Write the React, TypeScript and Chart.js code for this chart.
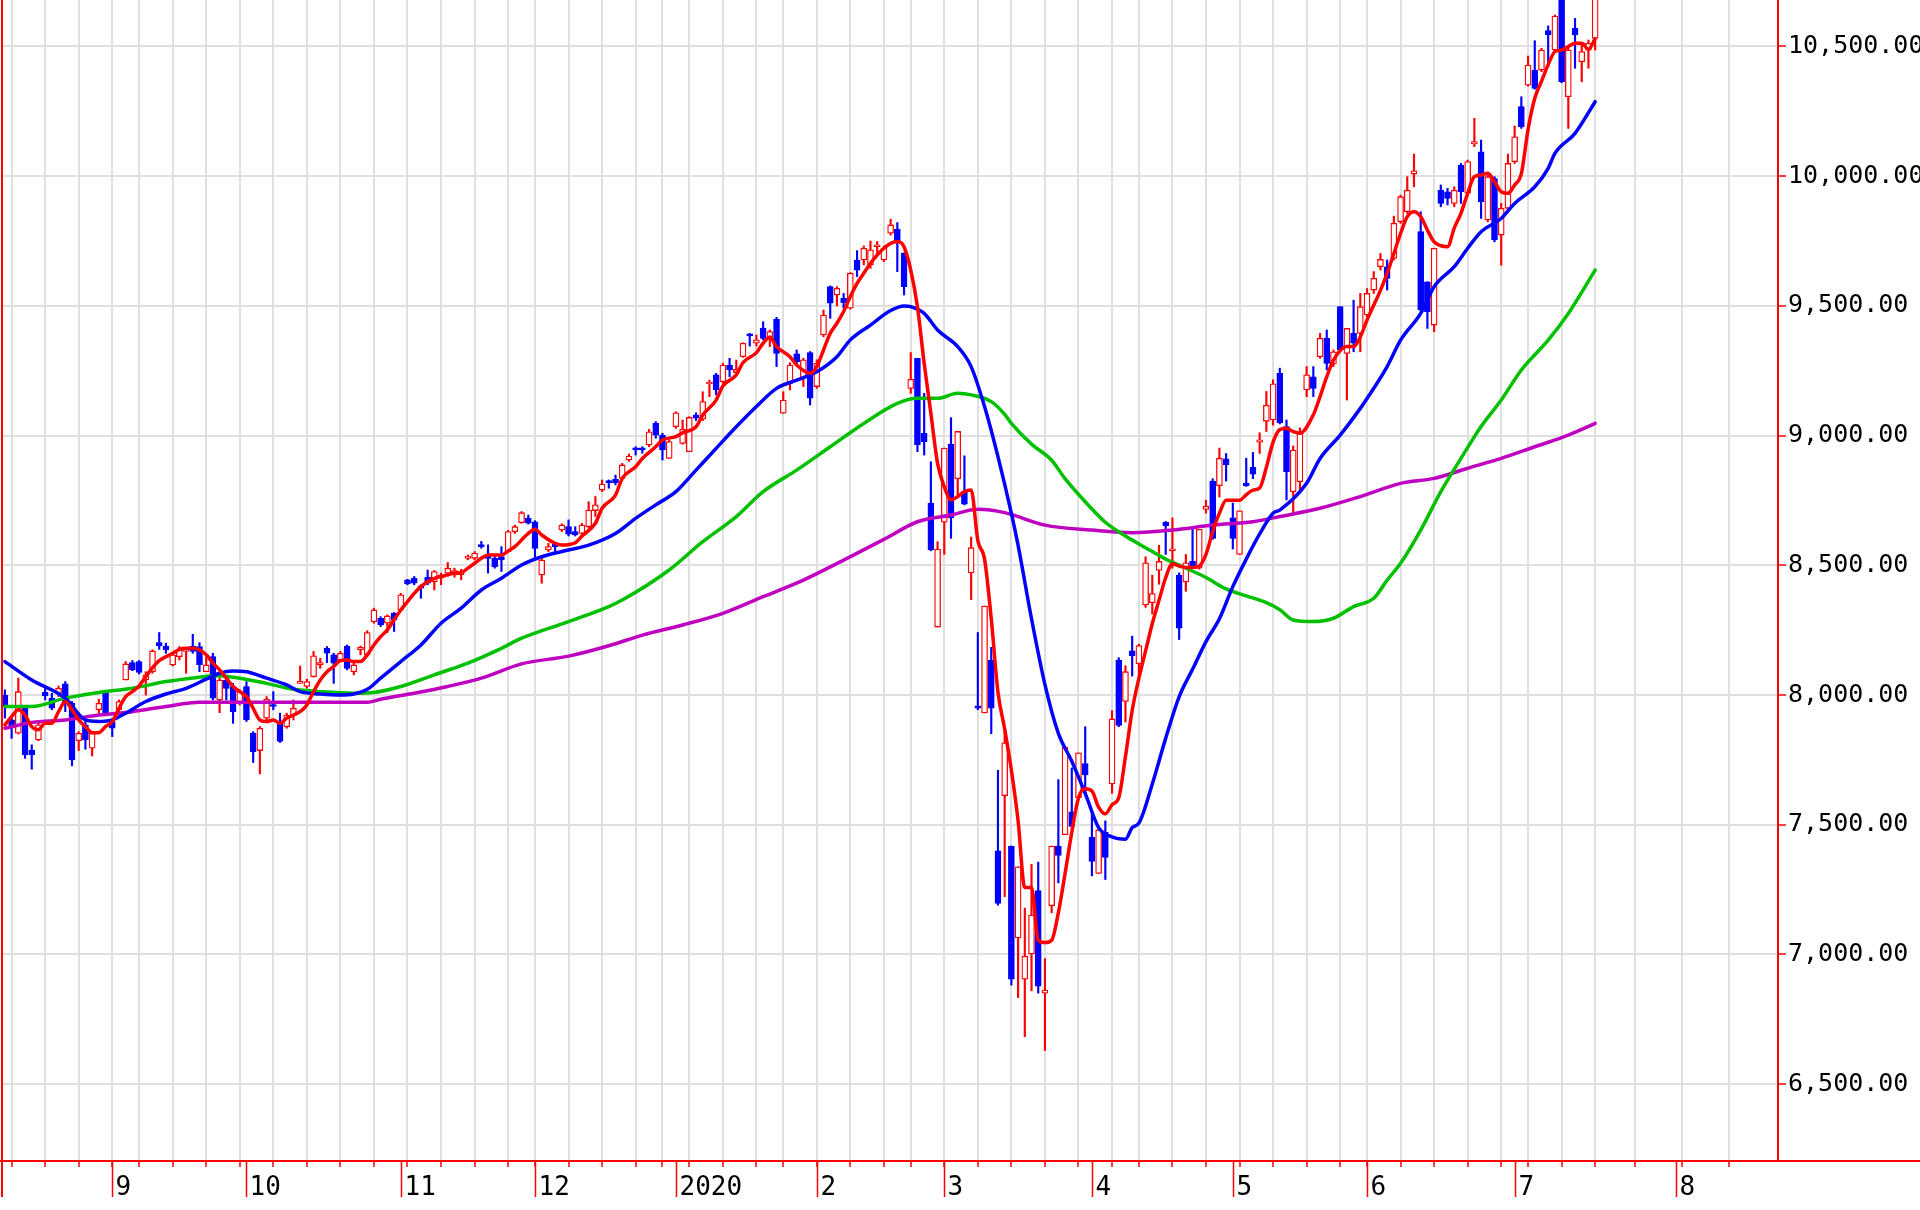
import React, { useEffect, useRef } from "react";
import { Chart, registerables } from "chart.js";
Chart.register(...registerables);

// ---- Daily candles (trading-day index 0 = first bar) ----
const opens = [
  8000, 7904, 7853, 7956, 7788, 7827, 8010, 7988, 8007, 8043,
  7968, 7824, 7885, 7795, 7943, 8010, 7898, 7943, 8058, 8125,
  8129, 8058, 8090, 8202, 8189, 8116, 8148, 8168, 8189, 8187,
  8090, 8148, 7981, 8058, 8033, 7968, 8033, 7853, 7786, 7911,
  7962, 7891, 7878, 7923, 8045, 8033, 8071, 8116, 8180, 8155,
  8135, 8189, 8090, 8174, 8155, 8283, 8296, 8277, 8315, 8328,
  8444, 8450, 8421, 8454, 8437, 8450, 8470, 8463, 8463, 8527,
  8527, 8579, 8540, 8527, 8534, 8553, 8630, 8664, 8681, 8668,
  8463, 8559, 8581, 8636, 8649, 8630, 8623, 8649, 8711, 8790,
  8826, 8831, 8835, 8906, 8951, 8951, 8964, 9047, 9002, 8912,
  9034, 8970, 8938, 9079, 9063, 9199, 9234, 9208, 9272, 9243,
  9304, 9392, 9356, 9414, 9381, 9448, 9086, 9201, 9315, 9221,
  9320, 9189, 9388, 9574, 9542, 9529, 9491, 9677, 9677, 9658,
  9728, 9677, 9780, 9795, 9703, 9182, 9298, 9009, 8740, 8262,
  8666, 8967, 8834, 8781, 8471, 7958, 7931, 8135, 7400, 7612,
  7418, 7064, 6905, 7002, 7246, 6851, 7188, 7418, 7462, 7550,
  7604, 7736, 7453, 7312, 7471, 7657, 8135, 7975, 8170, 8121,
  8347, 8356, 8480, 8666, 8556, 8462, 8436, 8515, 8489, 8715,
  8825, 8807, 8910, 8683, 8542, 8816, 8878, 8975, 9055, 9060,
  9240, 9035, 8784, 8822, 9176, 9227, 9304, 9375, 9276, 9497,
  9317, 9394, 9394, 9465, 9561, 9651, 9651, 9683, 9824, 9863,
  10008, 9786, 9593, 9426, 9946, 9940, 9895, 10043, 9934, 10124,
  10094, 9831, 9991, 9773, 9876, 10056, 10268, 10351, 10409, 10409,
  10561, 10486, 10720, 10306, 10570, 10441, 10486, 10531,
];
const highs = [
  8020, 7911, 8065, 7960, 7808, 7891, 8026, 8007, 8035, 8052,
  7975, 7859, 7904, 7859, 7984, 8013, 7904, 7981, 8129, 8133,
  8133, 8090, 8174, 8241, 8200, 8161, 8187, 8180, 8234, 8202,
  8148, 8161, 8065, 8071, 8045, 8020, 8052, 7859, 7878, 7994,
  8013, 7930, 7930, 7981, 8112, 8061, 8168, 8142, 8187, 8161,
  8168, 8193, 8123, 8189, 8248, 8335, 8302, 8309, 8318, 8392,
  8446, 8457, 8425, 8482, 8480, 8470, 8511, 8489, 8485, 8540,
  8553, 8592, 8579, 8534, 8572, 8635, 8655, 8707, 8694, 8672,
  8527, 8585, 8588, 8660, 8675, 8649, 8662, 8745, 8765, 8829,
  8829, 8848, 8893, 8929, 8957, 8957, 9024, 9054, 9009, 8983,
  9092, 9060, 9073, 9088, 9169, 9214, 9240, 9279, 9298, 9291,
  9358, 9394, 9388, 9439, 9407, 9456, 9169, 9281, 9330, 9298,
  9324, 9292, 9484, 9577, 9574, 9548, 9628, 9713, 9731, 9750,
  9748, 9731, 9834, 9821, 9705, 9320, 9298, 9163, 8899, 8591,
  8952, 9069, 9016, 8922, 8609, 8241, 8343, 8184, 7710, 7873,
  7418, 7338, 7179, 7347, 7356, 6984, 7418, 7674, 7798, 7719,
  7777, 7878, 7550, 7489, 7515, 7940, 8144, 8113, 8227, 8196,
  8533, 8462, 8577, 8669, 8683, 8471, 8542, 8639, 8639, 8751,
  8834, 8952, 8931, 8740, 8710, 8913, 8935, 9011, 9170, 9215,
  9260, 9060, 8960, 9030, 9266, 9266, 9394, 9407, 9330, 9497,
  9413, 9522, 9548, 9567, 9632, 9702, 9677, 9846, 9927, 9998,
  10085, 9863, 9593, 9722, 9966, 9953, 9959, 10049, 10062, 10223,
  10139, 10011, 9998, 9895, 10085, 10193, 10306, 10463, 10522, 10493,
  10579, 10621, 10760, 10499, 10608, 10512, 10525, 10720,
];
const lows = [
  7911, 7833, 7850, 7756, 7714, 7824, 7981, 7943, 7994, 7936,
  7727, 7786, 7791, 7765, 7930, 7923, 7840, 7930, 8058, 8094,
  8081, 8000, 8084, 8176, 8161, 8112, 8135, 8084, 8161, 8090,
  8090, 7981, 7932, 7981, 7891, 7962, 7898, 7740, 7696, 7904,
  7943, 7817, 7872, 7904, 8045, 8026, 8069, 8103, 8125, 8045,
  8129, 8097, 8078, 8155, 8148, 8277, 8264, 8241, 8245, 8322,
  8425, 8425, 8373, 8425, 8405, 8425, 8459, 8454, 8444, 8521,
  8521, 8566, 8470, 8489, 8476, 8550, 8623, 8662, 8659, 8520,
  8431, 8553, 8549, 8630, 8613, 8613, 8617, 8643, 8688, 8784,
  8797, 8810, 8829, 8900, 8925, 8932, 8957, 8990, 8906, 8912,
  9028, 8967, 8938, 9058, 9058, 9150, 9157, 9202, 9227, 9234,
  9302, 9345, 9345, 9369, 9343, 9266, 9086, 9176, 9272, 9189,
  9118, 9182, 9381, 9452, 9500, 9491, 9487, 9613, 9658, 9645,
  9696, 9671, 9773, 9632, 9542, 9163, 8938, 8925, 8556, 8262,
  8542, 8604, 8772, 8733, 8368, 7943, 7931, 7851, 7190, 7223,
  6882, 6834, 6683, 6860, 6851, 6630, 7161, 7276, 7462, 7489,
  7595, 7612, 7303, 7312, 7289, 7621, 7878, 7896, 8073, 8064,
  8338, 8312, 8427, 8542, 8489, 8214, 8400, 8489, 8485, 8701,
  8600, 8763, 8825, 8563, 8542, 8804, 8834, 8931, 9016, 9040,
  9045, 8752, 8694, 8790, 9150, 9150, 9298, 9253, 9266, 9323,
  9137, 9323, 9323, 9458, 9548, 9638, 9561, 9677, 9818, 9857,
  9959, 9480, 9413, 9400, 9882, 9889, 9882, 9895, 9934, 10114,
  9837, 9824, 9747, 9657, 9869, 10049, 10184, 10347, 10335, 10403,
  10422, 10480, 10360, 10184, 10416, 10364, 10416, 10486,
];
const closes = [
  7956, 7878, 8013, 7769, 7769, 7885, 7997, 7949, 8026, 7968,
  7750, 7853, 7827, 7853, 7968, 7930, 7872, 7975, 8120, 8097,
  8087, 8078, 8170, 8189, 8174, 8155, 8174, 8174, 8168, 8116,
  8116, 7988, 8058, 8026, 7936, 8013, 7904, 7782, 7872, 7984,
  7956, 7821, 7923, 7949, 8052, 8052, 8151, 8125, 8161, 8123,
  8161, 8103, 8116, 8184, 8241, 8328, 8270, 8305, 8290, 8386,
  8428, 8431, 8412, 8431, 8476, 8463, 8489, 8480, 8476, 8536,
  8547, 8572, 8527, 8495, 8521, 8630, 8649, 8703, 8662, 8565,
  8520, 8572, 8572, 8655, 8620, 8617, 8655, 8713, 8733, 8813,
  8819, 8819, 8887, 8921, 8945, 8945, 9015, 9002, 8945, 8977,
  9088, 9024, 9070, 9067, 9131, 9204, 9176, 9272, 9253, 9255,
  9356, 9384, 9369, 9375, 9401, 9317, 9137, 9272, 9285, 9292,
  9144, 9279, 9465, 9510, 9568, 9512, 9626, 9638, 9722, 9716,
  9735, 9722, 9812, 9748, 9574, 9217, 8964, 8977, 8559, 8563,
  8952, 8683, 9016, 8736, 8568, 7949, 8343, 7949, 7197, 7816,
  6905, 7338, 6993, 7152, 6878, 6863, 7418, 7382, 7798, 7494,
  7777, 7692, 7359, 7480, 7374, 7908, 7883, 8090, 8152, 8191,
  8510, 8391, 8515, 8652, 8559, 8258, 8510, 8497, 8639, 8728,
  8604, 8913, 8887, 8604, 8710, 8807, 8851, 8984, 9117, 9200,
  9050, 8861, 8944, 9009, 9234, 9182, 9375, 9278, 9323, 9330,
  9413, 9356, 9497, 9548, 9606, 9679, 9606, 9818, 9921, 9946,
  10021, 9484, 9478, 9722, 9895, 9914, 9946, 9940, 10056, 10133,
  9902, 9998, 9754, 9876, 10049, 10152, 10191, 10428, 10338, 10486,
  10544, 10617, 10364, 10486, 10544, 10480, 10512, 10700,
];

// ---- Moving averages (at the given day indices) ----
const ma5Days = [
  0, 1, 2, 3, 4, 5, 6, 7, 8, 9, 10, 11, 12, 13, 14, 15, 16, 17, 18, 19,
  20, 21, 22, 23, 24, 25, 26, 27, 28, 29, 30, 31, 32, 33, 34, 35, 36, 37, 38, 39,
  40, 41, 42, 43, 44, 45, 46, 47, 48, 49, 50, 51, 52, 53, 54, 55, 56, 57, 58, 59,
  60, 61, 62, 63, 64, 65, 66, 67, 68, 69, 70, 71, 72, 73, 74, 75, 76, 78, 79, 80,
  82, 83, 85, 86, 88, 89, 91, 92, 94, 95, 97, 98, 100, 101, 103, 104, 106, 107, 109, 110,
  112, 113, 114, 115, 117, 118, 120, 121, 122, 123, 124, 125, 126, 127, 128, 129, 130, 131, 132, 133,
  134, 135, 136, 137, 138, 139, 140, 141, 142, 143, 144, 145, 146, 147, 148, 149, 150, 151, 152, 153,
  154, 155, 156, 157, 158, 159, 160, 161, 162, 163, 164, 165, 166, 167, 168, 169, 170, 171, 172, 173,
  174, 175, 176, 177, 178, 179, 180, 181, 182, 183, 184, 185, 186, 187, 188, 189, 190, 191, 192, 193,
  195, 196, 197, 198, 200, 201, 202, 203, 205, 206, 207, 208, 209, 210, 211, 212, 213, 215, 216, 217,
  218, 219, 220, 221, 222, 223, 224, 225, 226, 227, 228, 229, 230, 231, 232, 233, 234, 235, 236, 237,
];
const ma5 = [
  7885, 7917, 7943, 7923, 7878, 7866, 7891, 7891, 7936, 7975, 7943, 7904, 7878, 7855, 7855, 7878, 7898, 7949, 7994, 8013,
  8035, 8071, 8106, 8133, 8148, 8161, 8176, 8180, 8180, 8174, 8155, 8123, 8097, 8065, 8033, 8013, 7994, 7949, 7904, 7898,
  7904, 7891, 7911, 7923, 7936, 7962, 8013, 8058, 8090, 8110, 8133, 8135, 8129, 8129, 8155, 8193, 8225, 8251, 8290, 8328,
  8360, 8392, 8418, 8437, 8450, 8457, 8463, 8470, 8472, 8489, 8508, 8527, 8540, 8540, 8540, 8555, 8572, 8623, 8639, 8617,
  8585, 8578, 8587, 8613, 8662, 8720, 8771, 8835, 8880, 8912, 8957, 8983, 8996, 9011, 9034, 9079, 9137, 9191, 9234, 9281,
  9320, 9356, 9379, 9343, 9304, 9272, 9240, 9266, 9330, 9394, 9433, 9478, 9536, 9587, 9626, 9664, 9696, 9722, 9741, 9748,
  9728, 9638, 9497, 9279, 9086, 8893, 8803, 8752, 8765, 8784, 8790, 8595, 8524, 8294, 8011, 7869, 7710, 7515, 7258, 7258,
  7055, 7046, 7055, 7161, 7312, 7471, 7604, 7639, 7630, 7568, 7542, 7577, 7604, 7763, 7940, 8064, 8170, 8276, 8365, 8453,
  8506, 8497, 8492, 8492, 8497, 8542, 8630, 8701, 8751, 8751, 8751, 8772, 8790, 8798, 8878, 8975, 9023, 9028, 9015, 9009,
  9080, 9150, 9227, 9291, 9343, 9343, 9381, 9445, 9560, 9625, 9702, 9779, 9844, 9863, 9844, 9792, 9747, 9728, 9800, 9857,
  9934, 9998, 10004, 10011, 9979, 9940, 9934, 9966, 10010, 10180, 10300, 10365, 10430, 10480, 10486, 10500, 10512, 10512, 10489, 10530,
];

const ma25Days = [
  0, 4, 9, 12, 14, 16, 18, 21, 24, 27, 30, 32, 34, 36, 39, 42, 44, 47, 50, 52,
  54, 56, 59, 62, 65, 68, 71, 74, 77, 80, 84, 87, 91, 94, 97, 100, 103, 106, 109, 112,
  115, 118, 121, 124, 126, 129, 132, 134, 135, 137, 139, 142, 144, 146, 148, 150, 151, 153, 155, 157,
  159, 161, 163, 165, 167, 168, 169, 171, 173, 175, 177, 179, 181, 183, 185, 187, 189, 190, 194, 196,
  199, 202, 203, 206, 208, 211, 213, 216, 218, 220, 223, 225, 228, 230, 231, 234, 237,
];
const ma25 = [
  8129, 8058, 7988, 7904, 7898, 7904, 7930, 7975, 8004, 8026, 8061, 8084, 8093, 8090, 8065, 8039, 8013, 8004, 8000, 8004,
  8022, 8065, 8129, 8193, 8277, 8335, 8405, 8450, 8501, 8533, 8559, 8578, 8623, 8681, 8733, 8784, 8867, 8951, 9034, 9112,
  9182, 9214, 9246, 9304, 9369, 9426, 9482, 9500, 9497, 9471, 9407, 9343, 9266, 9112, 8919, 8700, 8577, 8294, 8040, 7852,
  7745, 7621, 7489, 7453, 7444, 7489, 7506, 7657, 7834, 7993, 8099, 8206, 8294, 8418, 8524, 8621, 8701, 8713, 8816, 8912,
  9002, 9105, 9143, 9266, 9368, 9471, 9574, 9651, 9722, 9786, 9837, 9895, 9959, 10030, 10088, 10165, 10287,
];

const ma75Days = [
  0, 4, 9, 14, 19, 24, 29, 31, 34, 39, 43, 47, 52, 55, 59, 64, 69, 74, 77, 84,
  90, 92, 99, 104, 109, 113, 118, 123, 128, 133, 136, 139, 142, 144, 147, 149, 150, 153, 156, 158,
  161, 164, 167, 170, 173, 176, 179, 182, 185, 188, 190, 192, 195, 198, 201, 204, 206, 208, 211, 214,
  217, 220, 223, 226, 230, 233, 237,
];
const ma75 = [
  7956, 7956, 7988, 8010, 8026, 8052, 8069, 8074, 8069, 8045, 8022, 8013, 8007, 8010, 8033, 8078, 8123, 8180, 8219, 8283,
  8341, 8366, 8482, 8591, 8688, 8784, 8867, 8957, 9047, 9124, 9144, 9144, 9163, 9157, 9131, 9082, 9047, 8967, 8905, 8834,
  8745, 8666, 8613, 8568, 8524, 8489, 8453, 8409, 8382, 8356, 8329, 8289, 8283, 8296, 8341, 8373, 8443, 8508, 8636, 8784,
  8912, 9035, 9137, 9253, 9368, 9471, 9638,
];

const ma200Days = [
  0, 4, 9, 14, 19, 24, 29, 34, 44, 54, 56, 61, 66, 71, 77, 84, 90, 95, 101, 107,
  113, 119, 125, 131, 136, 141, 145, 149, 155, 162, 168, 174, 180, 186, 190, 196, 202, 208, 213, 218,
  223, 228, 233, 237,
];
const ma200 = [
  7872, 7894, 7904, 7923, 7936, 7956, 7972, 7972, 7972, 7972, 7984, 8007, 8033, 8065, 8120, 8150, 8190, 8231, 8270, 8315,
  8379, 8443, 8520, 8600, 8668, 8694, 8716, 8703, 8655, 8636, 8626, 8636, 8655, 8668, 8688, 8720, 8765, 8816, 8835, 8874,
  8912, 8957, 9002, 9047,
];

// ---- Axis content ----
const weekStartDays = [
  1, 6, 11, 16, 20, 25, 30, 35, 40, 45, 50, 55, 60, 65, 70, 75, 79, 84, 89, 94,
  98, 102, 107, 112, 116, 121, 126, 131, 135, 140, 145, 150, 155, 160, 165, 169, 174, 179, 184, 189,
  194, 199, 203, 208, 213, 218, 223, 227, 232, 237, 243, 250, 257,
];
const monthStartDays = [16, 36, 59, 79, 100, 121, 140, 162, 183, 203, 225, 249];
const monthLabels = ["9", "10", "11", "12", "2020", "2", "3", "4", "5", "6", "7", "8"];
const priceTicks = [6500, 7000, 7500, 8000, 8500, 9000, 9500, 10000, 10500];

const X_MIN = -0.432;
const X_MAX = 264.25;
const Y_MIN = 6204;
const Y_MAX = 10679;

const RED = "#ff0000";
const BLUE = "#0000ff";
const GREEN = "#00c000";
const MAGENTA = "#c000c0";
const GRID = "#e0e0e0";
const FONT = "'DejaVu Sans Mono', monospace";

const fmt = (v: number) =>
  v.toLocaleString("en-US", { minimumFractionDigits: 2, maximumFractionDigits: 2 });

export default function App() {
  const ref = useRef<HTMLCanvasElement | null>(null);

  useEffect(() => {
    document.body.style.margin = "0";
    const canvas = ref.current;
    if (!canvas) return;

    const up = opens.map((o, i) => closes[i] >= o);

    const wickData = opens.map((o, i) => ({
      x: i,
      y: [Math.min(lows[i], o, closes[i]), Math.max(highs[i], o, closes[i])],
    }));
    const bodyData = opens.map((o, i) => ({
      x: i,
      y: [Math.min(o, closes[i]), Math.max(o, closes[i])],
    }));
    const line = (days: number[], vals: number[]) => days.map((d, k) => ({ x: d, y: vals[k] }));

    const axisPlugin = {
      id: "axisDeco",
      afterDraw(chart: any) {
        const ctx = chart.ctx as CanvasRenderingContext2D;
        const xs = chart.scales.x;
        const area = chart.chartArea;
        ctx.save();
        ctx.strokeStyle = RED;
        ctx.lineWidth = 2;
        ctx.beginPath();
        ctx.moveTo(0, area.bottom);
        ctx.lineTo(chart.width, area.bottom);
        ctx.stroke();
        ctx.beginPath();
        ctx.moveTo(area.left, 0);
        ctx.lineTo(area.left, area.bottom + 36);
        ctx.stroke();
        ctx.lineWidth = 1.5;
        ctx.fillStyle = "#000";
        ctx.font = `26px ${FONT}`;
        ctx.textAlign = "left";
        ctx.textBaseline = "alphabetic";
        monthStartDays.forEach((d, k) => {
          const px = Math.round(xs.getPixelForValue(d)) + 0.5;
          ctx.beginPath();
          ctx.moveTo(px, area.bottom);
          ctx.lineTo(px, area.bottom + 36);
          ctx.stroke();
          ctx.fillText(monthLabels[k], px + 3, area.bottom + 34);
        });
        ctx.restore();
      },
    };

    const lineDs = (data: any[], color: string, order: number) => ({
      type: "line",
      data,
      borderColor: color,
      borderWidth: 3.5,
      pointRadius: 0,
      cubicInterpolationMode: "monotone",
      order,
    });

    const chart = new Chart(canvas, {
      type: "line",
      data: {
        datasets: [
          lineDs(line(ma5Days, ma5), RED, 0) as any,
          lineDs(line(ma25Days, ma25), BLUE, 1) as any,
          lineDs(line(ma75Days, ma75), GREEN, 2) as any,
          lineDs(line(ma200Days, ma200), MAGENTA, 3) as any,
          {
            type: "bar",
            data: bodyData,
            backgroundColor: up.map((u) => (u ? "#ffffff" : BLUE)),
            borderColor: up.map((u) => (u ? RED : BLUE)),
            borderWidth: 1.3,
            borderSkipped: false,
            barThickness: 6,
            minBarLength: 2,
            grouped: false,
            order: 4,
          } as any,
          {
            type: "bar",
            data: wickData,
            backgroundColor: up.map((u) => (u ? RED : BLUE)),
            borderWidth: 0,
            barThickness: 1.5,
            grouped: false,
            order: 5,
          } as any,
        ],
      },
      options: {
        animation: false,
        responsive: false,
        maintainAspectRatio: false,
        layout: { padding: { left: 2, right: 0, top: 0, bottom: 0 } },
        plugins: { legend: { display: false }, tooltip: { enabled: false } },
        elements: { line: { borderJoinStyle: "round", borderCapStyle: "round" } },
        scales: {
          x: {
            type: "linear",
            min: X_MIN,
            max: X_MAX,
            offset: false,
            afterBuildTicks: (s: any) => {
              s.ticks = weekStartDays.map((v) => ({ value: v }));
            },
            afterFit: (s: any) => {
              s.height = 49;
              s.paddingLeft = 0;
              s.paddingRight = 0;
            },
            grid: {
              color: GRID,
              lineWidth: 2,
              offset: false,
              drawTicks: true,
              tickLength: 6,
              tickColor: RED,
              tickWidth: 1.5,
            },
            border: { display: false },
            ticks: { display: false },
          },
          y: {
            type: "linear",
            position: "right",
            min: Y_MIN,
            max: Y_MAX,
            beginAtZero: false,
            afterBuildTicks: (s: any) => {
              s.ticks = priceTicks.map((v) => ({ value: v }));
            },
            afterFit: (s: any) => {
              s.width = 142;
              s.paddingTop = 0;
              s.paddingBottom = 0;
            },
            grid: { color: GRID, lineWidth: 2, tickLength: 8, tickColor: RED, tickWidth: 1.5 },
            border: { display: true, color: RED, width: 2 },
            ticks: {
              color: "#000",
              padding: 2,
              font: { family: FONT, size: 25 },
              callback: (v: any) => fmt(Number(v)),
            },
          },
        },
      } as any,
      plugins: [axisPlugin],
    });

    return () => chart.destroy();
  }, []);

  return (
    <div style={{ position: "fixed", left: 0, top: 0, width: 1920, height: 1210, background: "#ffffff" }}>
      <canvas ref={ref} width={1920} height={1210} style={{ display: "block" }} />
    </div>
  );
}
